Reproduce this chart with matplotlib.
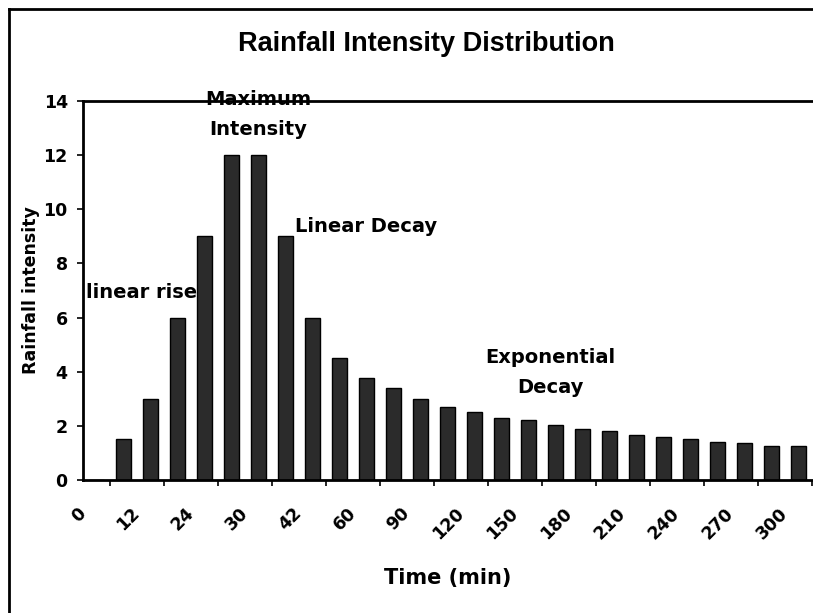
import matplotlib
matplotlib.use("Agg")
import matplotlib.pyplot as plt
from matplotlib.lines import Line2D
import numpy as np

# rainfall intensity per time step (first step carries no rain)
intensity = [0, 1.5, 3, 6, 9, 12, 12, 9, 6, 4.5, 3.75, 3.4, 3.0, 2.7, 2.5,
             2.3, 2.2, 2.05, 1.9, 1.8, 1.65, 1.6, 1.5, 1.42, 1.35, 1.27, 1.27]
# time labels shown on every second step
time_labels = ['0', '12', '24', '30', '42', '60', '90', '120', '150',
               '180', '210', '240', '270', '300']
y_ticks = [0, 2, 4, 6, 8, 10, 12, 14]

BOLD = dict(family='DejaVu Sans', fontweight='bold')

fig = plt.figure(figsize=(8.13, 6.13), dpi=100)
ax = fig.add_axes([83 / 813, 1 - 480 / 613, 729 / 813, 379 / 613])

x = np.arange(len(intensity))
ax.bar(x, intensity, width=0.55, color='#2b2b2b', edgecolor='black',
       linewidth=1.0, zorder=2)

ax.set_xlim(-0.5, len(intensity) - 0.5)
ax.set_ylim(0, 14)

# spines like the old spreadsheet chart: left, bottom and top frame
for side in ['left', 'bottom', 'top']:
    ax.spines[side].set_linewidth(2)
    ax.spines[side].set_color('black')
ax.spines['right'].set_visible(False)

ax.set_yticks(y_ticks)
ax.set_yticklabels([str(v) for v in y_ticks], fontsize=12.5, **BOLD)
ax.tick_params(axis='y', direction='out', length=4, width=1.2, pad=7)

# labels sit at the left edge of every second step, rotated
label_pos = np.arange(0, len(intensity), 2) - 0.5
ax.set_xticks(label_pos)
ax.set_xticklabels(time_labels, fontsize=12.5, rotation=45,
                   ha='right', va='center', rotation_mode='anchor', **BOLD)
ax.tick_params(axis='x', which='major', length=0, pad=22)
ax.set_xticks(np.arange(len(intensity) + 1) - 0.5, minor=True)
ax.tick_params(axis='x', which='minor', direction='out', length=4, width=1.2)

ax.set_ylabel('Rainfall intensity', fontsize=12.5, **BOLD)
ax.yaxis.set_label_coords(-0.071, 0.5)
ax.yaxis.label.set_verticalalignment('center')
ax.set_xlabel('Time (min)', fontsize=15, **BOLD)
ax.xaxis.set_label_coords(0.5, -0.259)
ax.xaxis.label.set_verticalalignment('center')

# phase annotations
ax.text(6.0, 14.04, 'Maximum', ha='center', va='center', fontsize=14,
        zorder=1, **BOLD)
ax.text(6.0, 12.93, 'Intensity', ha='center', va='center', fontsize=14, **BOLD)
ax.text(7.35, 9.38, 'Linear Decay', ha='left', va='center', fontsize=14, **BOLD)
ax.text(-0.40, 6.91, 'linear rise', ha='left', va='center', fontsize=14, **BOLD)
ax.text(16.8, 4.54, 'Exponential', ha='center', va='center', fontsize=14, **BOLD)
ax.text(16.8, 3.43, 'Decay', ha='center', va='center', fontsize=14, **BOLD)

fig.text(426 / 813, 1 - 44 / 613, 'Rainfall Intensity Distribution',
         ha='center', va='center', family='Liberation Sans',
         fontweight='bold', fontsize=19.5)

# outer chart frame
fig.add_artist(Line2D([9 / 813, 9 / 813], [0, 1 - 9 / 613],
                      transform=fig.transFigure, color='black', linewidth=2))
fig.add_artist(Line2D([9 / 813, 1], [1 - 9 / 613, 1 - 9 / 613],
                      transform=fig.transFigure, color='black', linewidth=2))

fig.savefig('out.png', dpi=100)
